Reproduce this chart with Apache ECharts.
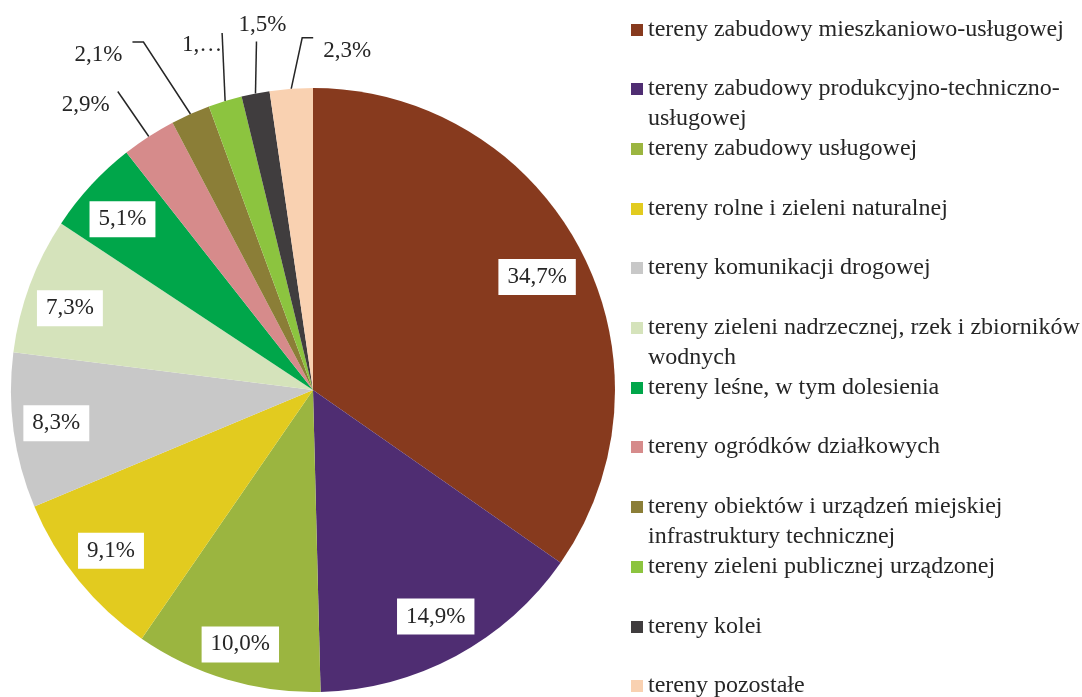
<!DOCTYPE html>
<html>
<head>
<meta charset="utf-8">
<script src="https://cdn.jsdelivr.net/npm/echarts@6/dist/echarts.min.js"></script>
<style>
html, body { margin: 0; padding: 0; background: #fff; }
#chart { width: 1082px; height: 697px; }
</style>
</head>
<body>
<div id="chart"></div>
<script>
// Data
var names = [
    'tereny zabudowy mieszkaniowo-usługowej',
    'tereny zabudowy produkcyjno-techniczno-usługowej',
    'tereny zabudowy usługowej',
    'tereny rolne i zieleni naturalnej',
    'tereny komunikacji drogowej',
    'tereny zieleni nadrzecznej, rzek i zbiorników wodnych',
    'tereny leśne, w tym dolesienia',
    'tereny ogródków działkowych',
    'tereny obiektów i urządzeń miejskiej infrastruktury technicznej',
    'tereny zieleni publicznej urządzonej',
    'tereny kolei',
    'tereny pozostałe'
];
var legendLabels = [
    'tereny zabudowy mieszkaniowo-usługowej',
    'tereny zabudowy produkcyjno-techniczno-\nusługowej',
    'tereny zabudowy usługowej',
    'tereny rolne i zieleni naturalnej',
    'tereny komunikacji drogowej',
    'tereny zieleni nadrzecznej, rzek i zbiorników\nwodnych',
    'tereny leśne, w tym dolesienia',
    'tereny ogródków działkowych',
    'tereny obiektów i urządzeń miejskiej\ninfrastruktury technicznej',
    'tereny zieleni publicznej urządzonej',
    'tereny kolei',
    'tereny pozostałe'
];
var shares = [34.7, 14.9, 10.0, 9.1, 8.3, 7.3, 5.1, 2.9, 2.1, 1.8, 1.5, 2.3];
var colors = ['#873a1e', '#4f2d72', '#9bb540', '#e2cb1f', '#c8c8c8', '#d5e3bb',
              '#00a64a', '#d68b8b', '#8b7e37', '#8cc43f', '#403d3e', '#f9d1b1'];
var outsideSlices = [7, 8, 9, 10, 11];
var shortLabels = { 9: '1,…' };

var FONT = "'Liberation Serif', 'Times New Roman', serif";
var TEXT = '#262626';
var CX = 313, CY = 390, R = 302;

// outside label placement relative to the slice edge point
var outsideOffsets = {
    7: { label: [-63, -32], line: [[-31, -45]] },
    8: { label: [-92, -59], line: [[-47, -72], [-58, -72]] },
    9: { label: [-23, -56], line: [[-3, -68]] },
    10: { label: [7, -69], line: [[1, -52]] },
    11: { label: [56, -38], line: [[11, -51], [22, -51]] }
};
// small nudges of the boxed labels
var labelNudge = { 0: [-2, 5], 1: [2, 2], 2: [0, 10], 3: [-4, 0], 4: [-4, -1], 5: [-4, 7], 6: [-3, 2] };

function fmtLabel(p) {
    if (shortLabels[p.dataIndex]) return shortLabels[p.dataIndex];
    return p.value.toFixed(1).replace('.', ',') + '%';
}

var mainData = [], labelData = [];
for (var i = 0; i < names.length; i++) {
    var out = outsideSlices.indexOf(i) >= 0;
    mainData.push({ name: names[i], value: shares[i], label: { show: out }, labelLine: { show: out } });
    labelData.push({ name: names[i], value: shares[i], label: { show: !out } });
}

var legends = names.map(function (n, i) {
    var twoLine = legendLabels[i].indexOf('\n') >= 0;
    return {
        orient: 'vertical',
        left: 631,
        top: Math.round(29.5 + i * 59.7 - (twoLine ? 45 : 15)),
        padding: 0,
        itemWidth: 12,
        itemHeight: 12,
        icon: 'rect',
        selectedMode: false,
        data: [{ name: n, textStyle: { padding: twoLine ? [30, 0, 0, 0] : 0 } }],
        formatter: function () { return legendLabels[i]; },
        textStyle: {
            fontFamily: FONT, fontSize: 24, lineHeight: 30, color: TEXT,
            rich: { x: { fontSize: 24 } }
        }
    };
});

var chart = echarts.init(document.getElementById('chart'));
chart.setOption({
    backgroundColor: '#fff',
    animation: false,
    color: colors,
    legend: legends,
    series: [
        {
            type: 'pie',
            center: [CX, CY],
            radius: R,
            startAngle: 90,
            avoidLabelOverlap: false,
            emphasis: { disabled: true },
            label: {
                position: 'outside',
                formatter: fmtLabel,
                fontFamily: FONT,
                fontSize: 23,
                color: TEXT
            },
            labelLine: { lineStyle: { color: TEXT, width: 1.5 } },
            labelLayout: function (p) {
                var o = outsideOffsets[p.dataIndex];
                if (!o || !p.labelLinePoints) return {};
                var p0 = p.labelLinePoints[0];
                var pts = [[p0[0], p0[1]]];
                o.line.forEach(function (d) { pts.push([p0[0] + d[0], p0[1] + d[1]]); });
                while (pts.length < 3) pts.push(pts[pts.length - 1]);
                return {
                    x: p0[0] + o.label[0],
                    y: p0[1] + o.label[1],
                    align: 'center',
                    verticalAlign: 'middle',
                    labelLinePoints: pts
                };
            },
            data: mainData
        },
        {
            type: 'pie',
            silent: true,
            center: [CX, CY],
            radius: [202, R],
            startAngle: 90,
            avoidLabelOverlap: false,
            itemStyle: { color: 'transparent' },
            label: {
                position: 'inside',
                formatter: fmtLabel,
                fontFamily: FONT,
                fontSize: 23,
                lineHeight: 26,
                color: TEXT,
                backgroundColor: '#fff',
                padding: [5, 9]
            },
            labelLine: { show: false },
            labelLayout: function (p) {
                var d = labelNudge[p.dataIndex];
                if (!d) return {};
                return { dx: d[0], dy: d[1] };
            },
            data: labelData
        }
    ]
});
</script>
</body>
</html>
